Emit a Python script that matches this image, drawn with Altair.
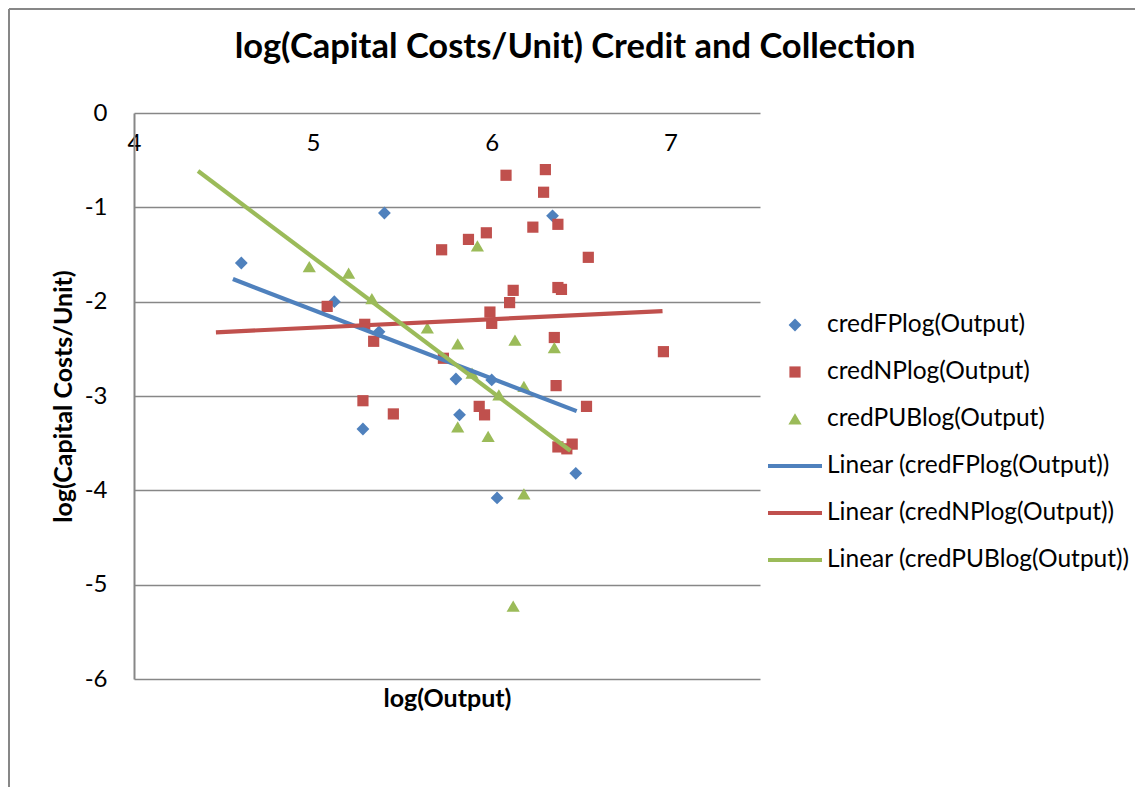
import altair as alt
import pandas as pd

# ---- data ----
series_names = ["credFPlog(Output)", "credNPlog(Output)", "credPUBlog(Output)"]
trend_names = ["Linear (credFPlog(Output))", "Linear (credNPlog(Output))", "Linear (credPUBlog(Output))"]
colors = ["#4F81BD", "#C0504D", "#9BBB59"]
chart_title = "log(Capital Costs/Unit) Credit and Collection"

fp_x = [4.60, 5.12, 5.40, 5.37, 5.28, 5.80, 5.82, 6.00, 6.03, 6.34, 6.47]
fp_y = [-1.59, -2.00, -1.06, -2.32, -3.35, -2.82, -3.20, -2.83, -4.08, -1.09, -3.82]

np_x = [5.08, 5.29, 5.34, 5.72, 5.28, 5.45, 5.73, 6.08, 6.30, 6.29, 6.37, 6.23, 5.97, 5.87,
        6.54, 6.12, 6.10, 6.37, 6.39, 5.99, 6.00, 6.35, 6.96, 6.36, 6.53, 5.93, 5.96, 6.37,
        6.45, 6.42]
np_y = [-2.05, -2.24, -2.42, -1.45, -3.05, -3.19, -2.60, -0.66, -0.60, -0.84, -1.18, -1.21,
        -1.27, -1.34, -1.53, -1.88, -2.01, -1.85, -1.87, -2.11, -2.23, -2.38, -2.53, -2.89,
        -3.11, -3.11, -3.20, -3.54, -3.51, -3.56]

pub_x = [4.98, 5.20, 5.33, 5.64, 5.92, 5.81, 6.13, 6.35, 5.89, 6.18, 6.04, 5.81, 5.98, 6.18, 6.12]
pub_y = [-1.63, -1.70, -1.97, -2.28, -1.41, -2.45, -2.41, -2.49, -2.76, -2.90, -2.99, -3.33,
         -3.43, -4.04, -5.23]

# linear trendline end points (as drawn in the reference)
trend_x0 = [4.553, 4.458, 4.358]
trend_x1 = [6.475, 6.955, 6.440]
trend_y0 = [-1.76, -2.325, -0.615]
trend_y1 = [-3.16, -2.10, -3.58]

x_ticks = [4, 5, 6, 7]
y_ticks = [0, -1, -2, -3, -4, -5, -6]

# ---- tables ----
rows = []
for name, xs, ys in zip(series_names, [fp_x, np_x, pub_x], [fp_y, np_y, pub_y]):
    for xv, yv in zip(xs, ys):
        rows.append({"x": xv, "y": yv, "series": name})
pts = pd.DataFrame(rows)

trows = []
for name, a, b, c, d in zip(trend_names, trend_x0, trend_x1, trend_y0, trend_y1):
    trows.append({"x": a, "y": c, "series": name})
    trows.append({"x": b, "y": d, "series": name})
tr = pd.DataFrame(trows)

FONT = "Lato"
GRID = "#878787"

# symbol paths (unit = sqrt(size)/2 px)
diamond = "M0,-0.32L0.32,0L0,0.32L-0.32,0Z"
square = "M-0.28,-0.28H0.28V0.28H-0.28Z"
triangle = "M0,-0.29L0.33,0.27H-0.33Z"
linesym = "M-1.35,-0.1H1.35V0.1H-1.35Z"

legend_domain = series_names + trend_names
legend_colors = colors + colors
legend_shapes = [diamond, square, triangle, linesym, linesym, linesym]

xscale = alt.Scale(domain=[4, 7.5], nice=False, zero=False)
yscale = alt.Scale(domain=[-6, 0], nice=False, zero=False)

yaxis = alt.Axis(values=y_ticks, title="log(Capital Costs/Unit)", titleFont=FONT,
                 titleFontSize=25, titleFontWeight="bold", titleColor="black",
                 titlePadding=8, labelFont=FONT, labelFontSize=24, labelColor="black",
                 labelPadding=27, ticks=False, domainColor=GRID, domainWidth=2,
                 gridColor=GRID, gridWidth=1.6, grid=True,
                 labelExpr="'' + datum.value")

leg = alt.Legend(title=None, orient="none", legendX=641, legendY=192, symbolSize=1600,
                 labelFont=FONT, labelFontSize=24.5, labelColor="black", labelOffset=12,
                 rowPadding=15, padding=0, symbolStrokeWidth=0, labelLimit=500)

points = alt.Chart(pts).mark_point(filled=True, size=1600, opacity=1).encode(
    x=alt.X("x:Q", scale=xscale,
            axis=alt.Axis(orient="top", values=x_ticks, labelPadding=-42, ticks=False,
                          domain=False, grid=False, title=None, labelFont=FONT,
                          labelFontSize=24, labelColor="black", labelFlush=False)),
    y=alt.Y("y:Q", scale=yscale, axis=yaxis),
    color=alt.Color("series:N", scale=alt.Scale(domain=legend_domain, range=legend_colors), legend=leg),
    shape=alt.Shape("series:N", scale=alt.Scale(domain=legend_domain, range=legend_shapes), legend=leg),
)

lines = alt.Chart(tr).mark_line(strokeWidth=4.2).encode(
    x=alt.X("x:Q", scale=xscale,
            axis=alt.Axis(orient="bottom", labels=False, ticks=False, domain=False, grid=False,
                          title="log(Output)", titleFont=FONT, titleFontSize=25,
                          titleFontWeight="bold", titleColor="black", titlePadding=7)),
    y=alt.Y("y:Q", scale=yscale, axis=yaxis),
    stroke=alt.Stroke("series:N", scale=alt.Scale(domain=trend_names, range=colors), legend=None),
    detail="series:N",
)

frame_src = pd.DataFrame({"k": [0]})
left_border = alt.Chart(frame_src).mark_rule(color=GRID, strokeWidth=2).encode(
    x=alt.value(-125), y=alt.value(-104), y2=alt.value(700))
top_border = alt.Chart(frame_src).mark_rule(color=GRID, strokeWidth=2).encode(
    x=alt.value(-125), x2=alt.value(1010), y=alt.value(-104))

title_src = pd.DataFrame({"t": [chart_title]})
title_text = alt.Chart(title_src).mark_text(
    font=FONT, fontSize=34.5, fontWeight="bold", color="black", align="center", baseline="middle"
).encode(text="t:N", x=alt.value(441), y=alt.value(-65))

chart = alt.layer(points, lines, left_border, top_border, title_text).resolve_axis(
    x="independent"
).properties(
    width=626, height=566,
    autosize=alt.AutoSizeParams(type="none"),
    padding={"left": 126, "top": 105, "right": 375, "bottom": 108},
).configure_view(stroke=None)

chart.save("out.html", embed_options={"renderer": "svg", "actions": False})
